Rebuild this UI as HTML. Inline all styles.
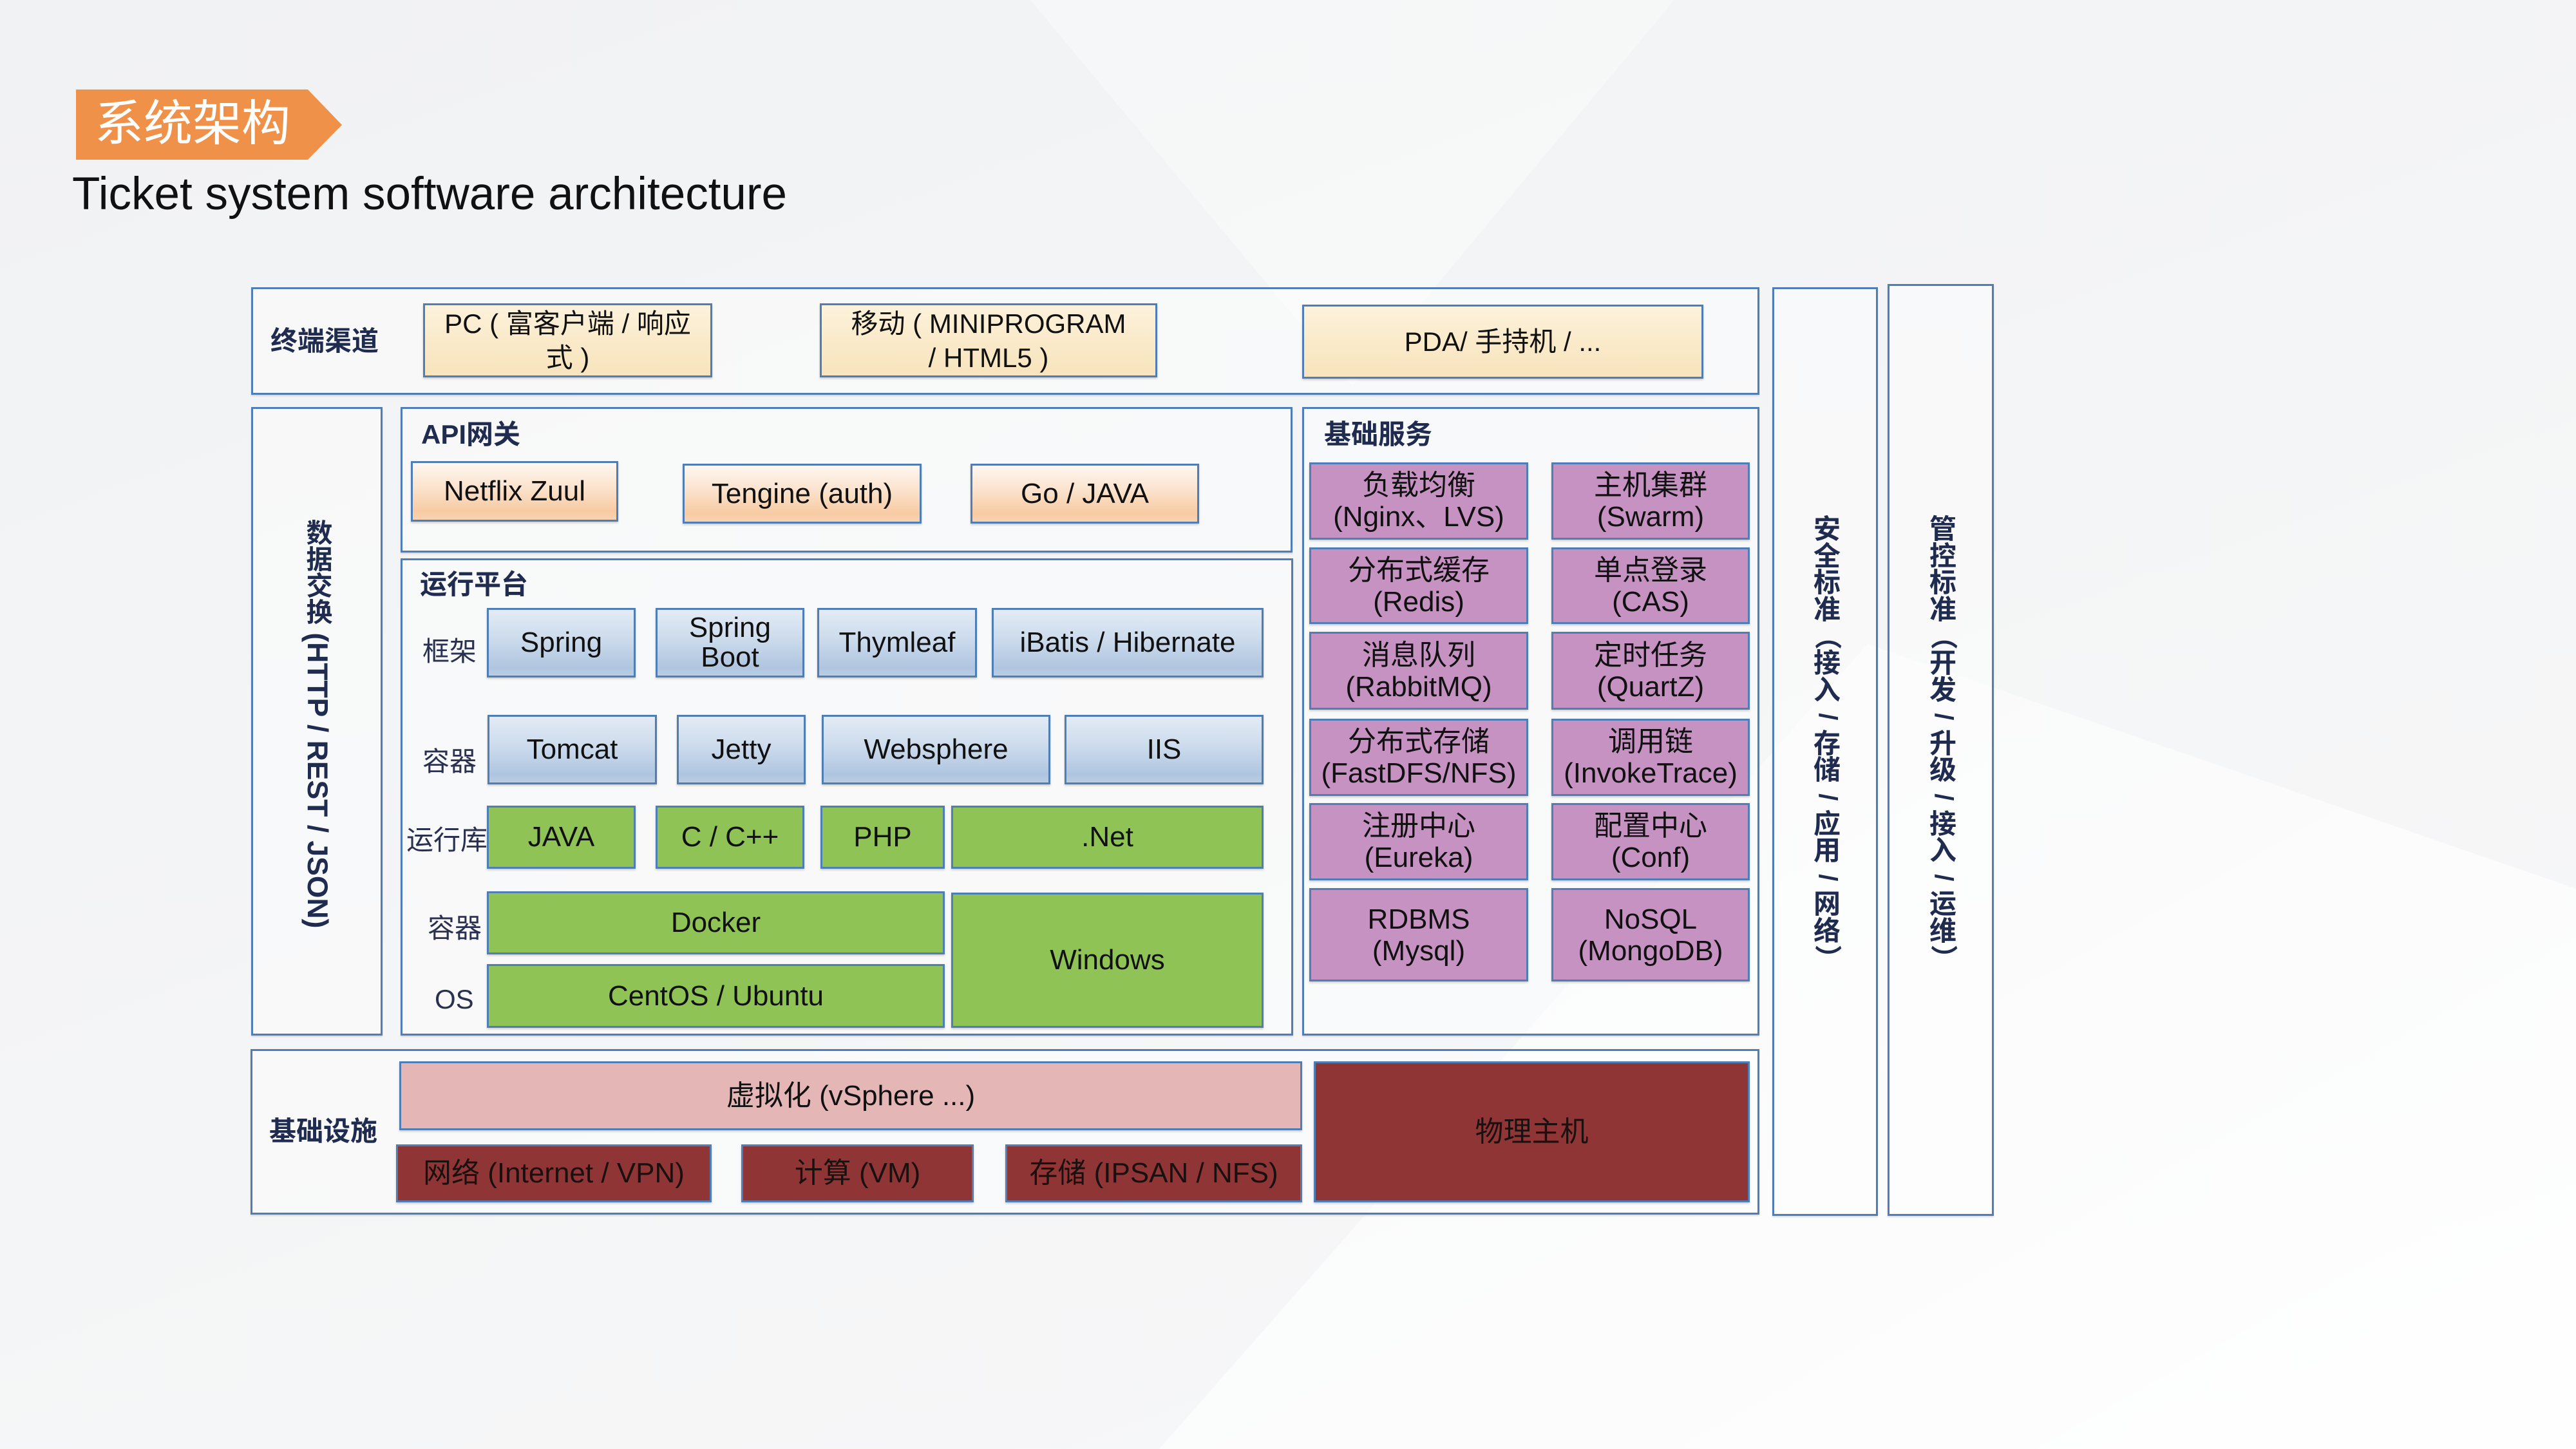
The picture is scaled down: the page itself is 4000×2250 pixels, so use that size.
<!DOCTYPE html>
<html>
<head>
<meta charset="utf-8">
<style>
  html,body{margin:0;padding:0;}
  body{width:4000px;height:2250px;position:relative;overflow:hidden;
    background:linear-gradient(160deg,#F1F2F4 0%,#F4F5F6 50%,#F8F8F9 100%);
    font-family:"Liberation Sans","Noto Sans CJK SC",sans-serif;}
  .abs{position:absolute;}
  .frame{position:absolute;box-sizing:border-box;border:3px solid #4F7EB7;background:rgba(255,255,255,0.45);
    box-shadow:0 2px 2px rgba(60,80,120,0.18);}
  .bx{position:absolute;box-sizing:border-box;border:3px solid #4F7EB7;display:flex;align-items:center;
    justify-content:center;text-align:center;font-size:44px;line-height:50px;color:#111;
    box-shadow:0 2px 3px rgba(0,0,0,0.18);}
  .yel{background:linear-gradient(180deg,#FCF2DC 0%,#FAEACA 50%,#F8E4BD 100%);font-size:42px;line-height:53px;}
  .pch{background:linear-gradient(180deg,#FEF7F1 0%,#FBE2CC 45%,#F7CBA3 85%,#F8D3B2 100%);}
  .blu{background:linear-gradient(180deg,#E3EBF5 0%,#CCDBEC 45%,#AFC5E0 88%,#B9CDE4 100%);}
  .grn{background:#8FC355;}
  .mav{background:#C592C2;line-height:49px;}
  .pnk{background:#E4B6B6;}
  .red{background:#903535;color:#1a1010;}
  .lbl{position:absolute;font-weight:bold;color:#1F2B4F;font-size:42px;line-height:50px;white-space:nowrap;}
  .row{position:absolute;color:#2A3150;font-size:42px;line-height:50px;white-space:nowrap;}
  .vt{position:absolute;width:50px;font-weight:bold;color:#1F2B4F;font-size:42px;}
  .vt span{display:block;height:41.6px;line-height:41.6px;text-align:center;}
  .vt span.r{transform:rotate(90deg);}
  .vt span.s{transform:rotate(90deg);font-family:"Liberation Sans",sans-serif;font-size:40px;}
</style>
</head>
<body>
<svg class="abs" style="left:0;top:0" width="4000" height="2250">
  <defs>
    <linearGradient id="g1" x1="0" y1="0" x2="1" y2="1">
      <stop offset="0" stop-color="#ffffff" stop-opacity="0.3"/>
      <stop offset="1" stop-color="#ffffff" stop-opacity="0.9"/>
    </linearGradient>
  </defs>
  <polygon points="2900,1000 4000,1380 4000,2250 1800,2250" fill="url(#g1)"/>
  <polygon points="1600,0 2600,0 2100,600" fill="#ffffff" opacity="0.35"/>
</svg>

<!-- title badge -->
<svg class="abs" style="left:0;top:0" width="600" height="300">
  <polygon points="118,139 478,139 531,194 478,248 118,248" fill="#EF9149"/>
</svg>
<div class="abs" style="left:147px;top:146px;font-size:76px;line-height:94px;color:#fff;white-space:nowrap;">系统架构</div>
<div class="abs" style="left:112px;top:262px;font-size:71px;line-height:80px;color:#111;white-space:nowrap;">Ticket system software architecture</div>

<!-- 终端渠道 -->
<div class="frame" style="left:390px;top:446px;width:2342px;height:167px;"></div>
<div class="lbl" style="left:420px;top:505px;">终端渠道</div>
<div class="bx yel" style="left:657px;top:471px;width:449px;height:115px;">PC ( 富客户端 / 响应<br>式 )</div>
<div class="bx yel" style="left:1273px;top:471px;width:524px;height:115px;">移动 ( MINIPROGRAM<br>/ HTML5 )</div>
<div class="bx yel" style="left:2022px;top:473px;width:623px;height:115px;">PDA/ 手持机 / ...</div>

<!-- 数据交换 column -->
<div class="frame" style="left:390px;top:632px;width:204px;height:976px;"></div>
<div class="abs" style="left:468px;top:806px;writing-mode:vertical-rl;font-weight:bold;color:#1F2B4F;white-space:nowrap;">
  <span style="font-size:41px;line-height:48px;">数据交换</span><span style="font-size:44.5px;line-height:48px;font-family:'Liberation Sans',sans-serif;"> (HTTP / REST / JSON)</span>
</div>

<!-- API网关 -->
<div class="frame" style="left:622px;top:632px;width:1385px;height:226px;"></div>
<div class="lbl" style="left:654px;top:650px;">API网关</div>
<div class="bx pch" style="left:638px;top:716px;width:322px;height:94px;">Netflix Zuul</div>
<div class="bx pch" style="left:1060px;top:720px;width:371px;height:93px;">Tengine (auth)</div>
<div class="bx pch" style="left:1507px;top:720px;width:355px;height:93px;">Go / JAVA</div>

<!-- 运行平台 -->
<div class="frame" style="left:622px;top:867px;width:1386px;height:741px;"></div>
<div class="lbl" style="left:652px;top:883px;">运行平台</div>

<div class="row" style="left:656px;top:987px;">框架</div>
<div class="bx blu" style="left:756px;top:944px;width:231px;height:108px;">Spring</div>
<div class="bx blu" style="left:1018px;top:944px;width:231px;height:108px;line-height:46px;">Spring<br>Boot</div>
<div class="bx blu" style="left:1269px;top:944px;width:248px;height:108px;">Thymleaf</div>
<div class="bx blu" style="left:1540px;top:944px;width:422px;height:108px;">iBatis / Hibernate</div>

<div class="row" style="left:656px;top:1158px;">容器</div>
<div class="bx blu" style="left:757px;top:1110px;width:263px;height:108px;">Tomcat</div>
<div class="bx blu" style="left:1051px;top:1110px;width:200px;height:108px;">Jetty</div>
<div class="bx blu" style="left:1276px;top:1110px;width:355px;height:108px;">Websphere</div>
<div class="bx blu" style="left:1653px;top:1110px;width:309px;height:108px;">IIS</div>

<div class="row" style="left:631px;top:1280px;">运行库</div>
<div class="bx grn" style="left:756px;top:1251px;width:231px;height:98px;">JAVA</div>
<div class="bx grn" style="left:1018px;top:1251px;width:231px;height:98px;">C / C++</div>
<div class="bx grn" style="left:1274px;top:1251px;width:193px;height:98px;">PHP</div>
<div class="bx grn" style="left:1477px;top:1251px;width:485px;height:98px;">.Net</div>

<div class="row" style="left:664px;top:1417px;">容器</div>
<div class="row" style="left:675px;top:1527px;">OS</div>
<div class="bx grn" style="left:756px;top:1384px;width:711px;height:98px;">Docker</div>
<div class="bx grn" style="left:756px;top:1497px;width:711px;height:99px;">CentOS / Ubuntu</div>
<div class="bx grn" style="left:1477px;top:1386px;width:485px;height:210px;">Windows</div>

<!-- 基础服务 -->
<div class="frame" style="left:2022px;top:632px;width:710px;height:976px;"></div>
<div class="lbl" style="left:2056px;top:650px;">基础服务</div>
<div class="bx mav" style="left:2033px;top:718px;width:340px;height:120px;">负载均衡<br>(Nginx、LVS)</div>
<div class="bx mav" style="left:2409px;top:718px;width:308px;height:120px;">主机集群<br>(Swarm)</div>
<div class="bx mav" style="left:2033px;top:850px;width:340px;height:119px;">分布式缓存<br>(Redis)</div>
<div class="bx mav" style="left:2409px;top:850px;width:308px;height:119px;">单点登录<br>(CAS)</div>
<div class="bx mav" style="left:2033px;top:981px;width:340px;height:121px;">消息队列<br>(RabbitMQ)</div>
<div class="bx mav" style="left:2409px;top:981px;width:308px;height:121px;">定时任务<br>(QuartZ)</div>
<div class="bx mav" style="left:2033px;top:1116px;width:340px;height:120px;">分布式存储<br>(FastDFS/NFS)</div>
<div class="bx mav" style="left:2409px;top:1116px;width:308px;height:120px;white-space:nowrap;">调用链<br>(InvokeTrace)</div>
<div class="bx mav" style="left:2033px;top:1247px;width:340px;height:120px;">注册中心<br>(Eureka)</div>
<div class="bx mav" style="left:2409px;top:1247px;width:308px;height:120px;">配置中心<br>(Conf)</div>
<div class="bx mav" style="left:2033px;top:1379px;width:340px;height:145px;">RDBMS<br>(Mysql)</div>
<div class="bx mav" style="left:2409px;top:1379px;width:308px;height:145px;">NoSQL<br>(MongoDB)</div>

<!-- 基础设施 -->
<div class="frame" style="left:389px;top:1629px;width:2343px;height:257px;"></div>
<div class="lbl" style="left:418px;top:1732px;">基础设施</div>
<div class="bx pnk" style="left:620px;top:1648px;width:1402px;height:107px;">虚拟化 (vSphere ...)</div>
<div class="bx red" style="left:615px;top:1777px;width:490px;height:90px;">网络 (Internet / VPN)</div>
<div class="bx red" style="left:1151px;top:1777px;width:361px;height:90px;">计算 (VM)</div>
<div class="bx red" style="left:1561px;top:1777px;width:461px;height:90px;">存储 (IPSAN / NFS)</div>
<div class="bx red" style="left:2040px;top:1648px;width:677px;height:219px;">物理主机</div>

<!-- 安全标准 -->
<div class="frame" style="left:2752px;top:446px;width:164px;height:1442px;"></div>
<div class="vt" style="left:2812px;top:801px;">
  <span>安</span><span>全</span><span>标</span><span>准</span><span class="r">（</span><span>接</span><span>入</span><span class="s">/</span><span>存</span><span>储</span><span class="s">/</span><span>应</span><span>用</span><span class="s">/</span><span>网</span><span>络</span><span class="r">）</span>
</div>

<!-- 管控标准 -->
<div class="frame" style="left:2931px;top:441px;width:165px;height:1447px;"></div>
<div class="vt" style="left:2992px;top:801px;">
  <span>管</span><span>控</span><span>标</span><span>准</span><span class="r">（</span><span>开</span><span>发</span><span class="s">/</span><span>升</span><span>级</span><span class="s">/</span><span>接</span><span>入</span><span class="s">/</span><span>运</span><span>维</span><span class="r">）</span>
</div>

</body>
</html>
